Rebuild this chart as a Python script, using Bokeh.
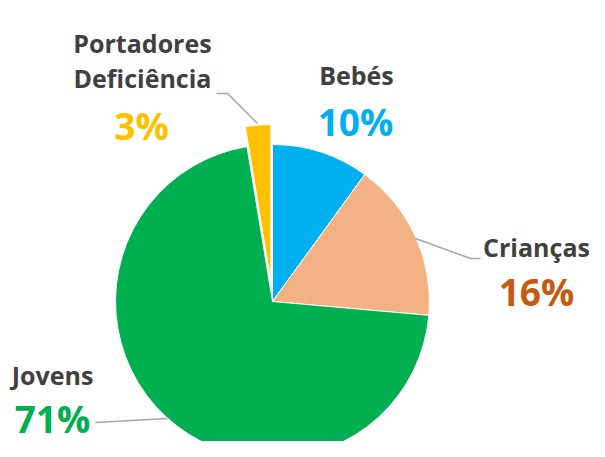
import math
from bokeh.plotting import figure
from bokeh.models import Range1d, ColumnDataSource
from bokeh.core.properties import value
from bokeh.embed import file_html
from bokeh.resources import INLINE

# ---- data ----
categories = ["Bebés", "Crianças", "Jovens", "Portadores\nDeficiência"]
values = [10.0, 16.4, 71.0, 2.6]
colors = ["#00B0F0", "#F4B183", "#00B050", "#FFC000"]
pct_colors = ["#00B0F0", "#C55A11", "#00B050", "#FFC000"]
explode = [0, 0, 0, 20]

# ---- layout (screen px -> data units, y up) ----
W, H = 589, 441
def X(px): return px
def Y(py): return H - py

cx, cy, R = X(272), Y(301), 157

p = figure(width=W, height=H, output_backend="svg", toolbar_location=None,
           x_range=Range1d(0, W), y_range=Range1d(0, H), min_border=0)
p.axis.visible = False
p.grid.visible = False
p.outline_line_color = None
p.background_fill_color = "white"
p.border_fill_color = "white"

total = sum(values)
cum = 0.0
xs, ys, starts, ends = [], [], [], []
for v, e in zip(values, explode):
    a0 = math.pi / 2 - 2 * math.pi * cum / total
    cum += v
    a1 = math.pi / 2 - 2 * math.pi * cum / total
    mid = (a0 + a1) / 2
    xs.append(cx + e * math.cos(mid))
    ys.append(cy + e * math.sin(mid))
    starts.append(a0)
    ends.append(a1)

src = ColumnDataSource(dict(x=xs, y=ys, start=starts, end=ends, color=colors))
p.wedge(x="x", y="y", radius=R, start_angle="start", end_angle="end",
        direction="clock", fill_color="color", line_color="white", line_width=1,
        source=src)

# leader lines
grey = "#A6A6A6"
p.line([X(216), X(227), X(257)], [Y(93), Y(93), Y(123)], line_color=grey, line_width=1.5)
p.line([X(415), X(470), X(480)], [Y(238), Y(258), Y(258)], line_color=grey, line_width=1.5)
p.line([X(95), X(167)], [Y(422), Y(418)], line_color=grey, line_width=1.5)

# labels (category name lines, then percentages)
cat_pos = [(356, 85), (536, 257), (52, 385), (142, 53)]
pct_pos = [(355, 136), (536, 306), (52, 433), (141, 140)]
pct_texts = [f"{round(v / total * 100)}%" for v in values]
line_gap = 35

lx, ly, lt = [], [], []
for name, (a, b) in zip(categories, cat_pos):
    for i, part in enumerate(name.split("\n")):
        lx.append(X(a))
        ly.append(Y(b + i * line_gap))
        lt.append(part)

p.text(x=lx, y=ly, text=lt, y_offset=-11,
       text_font=value("Open Sans"), text_font_style="bold", text_font_size="25px",
       text_color="#404040", text_align="center", text_baseline="alphabetic")
p.text(x=[X(a) for a, b in pct_pos], y=[Y(b) for a, b in pct_pos], text=pct_texts,
       y_offset=-15,
       text_font=value("Open Sans"), text_font_style="bold", text_font_size="37px",
       text_color=pct_colors, text_align="center", text_baseline="alphabetic")

open("out.html", "w").write(file_html(p, INLINE))
